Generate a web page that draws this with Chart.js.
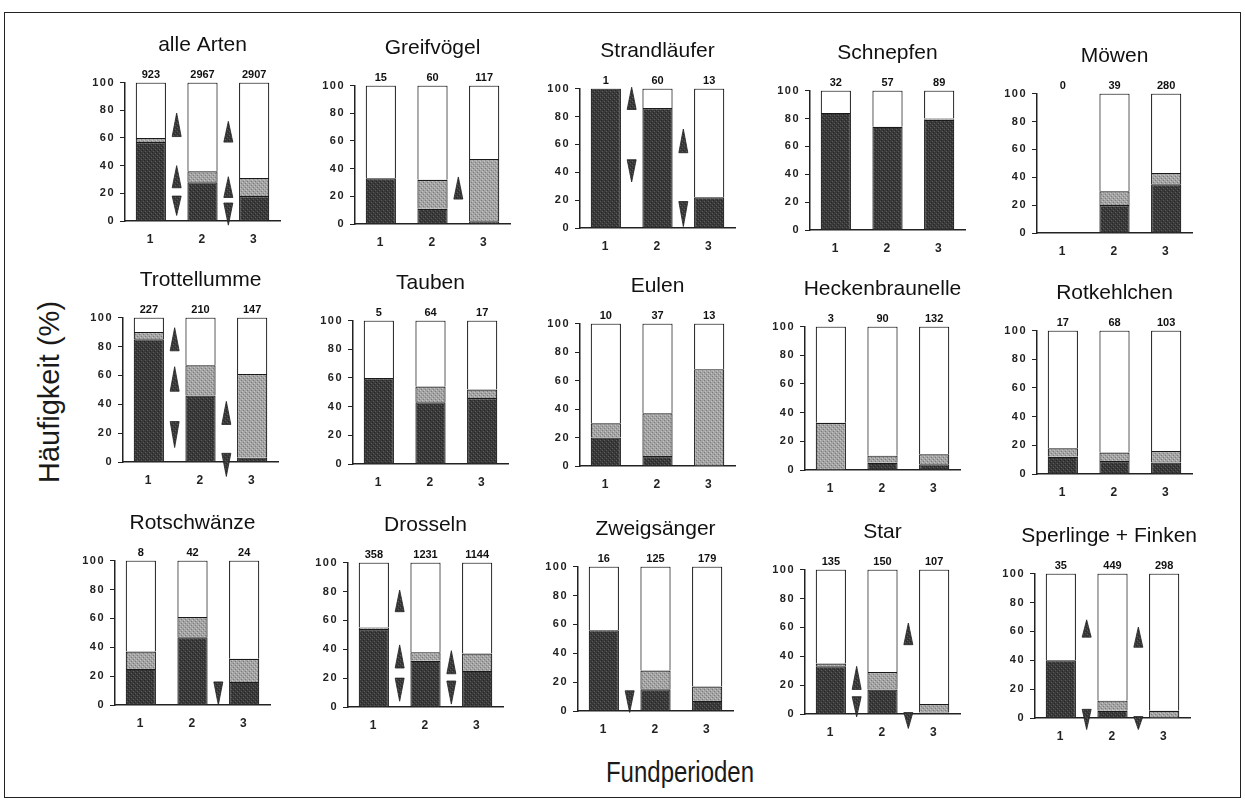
<!DOCTYPE html>
<html>
<head>
<meta charset="utf-8">
<script src="https://cdn.jsdelivr.net/npm/chart.js@4.4.0/dist/chart.umd.min.js"></script>
<style>
  body { margin: 0; background: #fff; width: 1245px; height: 808px; position: relative; overflow: hidden;
         font-family: "Liberation Sans", Arial, sans-serif; }
  #frame { position: absolute; left: 4px; top: 12px; width: 1237px; height: 786px; border: 1.5px solid #222; box-sizing: border-box; }
  canvas { position: absolute; }
  #ylab { position: absolute; left: 49px; top: 392px; transform: translate(-50%, -50%) rotate(-90deg);
          font-size: 29px; color: #1a1a1a; white-space: nowrap; }
  #xlab { position: absolute; left: 680px; top: 772px; transform: translate(-50%, -50%) scaleX(0.8);
          font-size: 30px; color: #1a1a1a; white-space: nowrap; }
</style>
</head>
<body>
<div id="frame"></div>
<div id="ylab">Häufigkeit (%)</div>
<div id="xlab">Fundperioden</div>

<script>
// Artengruppen (Titel der Einzeldiagramme)
const titles = ['alle Arten', 'Greifvögel', 'Strandläufer', 'Schnepfen', 'Möwen',
                'Trottellumme', 'Tauben', 'Eulen', 'Heckenbraunelle', 'Rotkehlchen',
                'Rotschwänze', 'Drosseln', 'Zweigsänger', 'Star', 'Sperlinge + Finken'];
const periods = ['1', '2', '3'];
const yTicks = [0, 20, 40, 60, 80, 100];

// Anzahl Funde je Periode (Zahlen über den Säulen)
const counts = [
  [923, 2967, 2907], [15, 60, 117], [1, 60, 13], [32, 57, 89], [0, 39, 280],
  [227, 210, 147], [5, 64, 17], [10, 37, 13], [3, 90, 132], [17, 68, 103],
  [8, 42, 24], [358, 1231, 1144], [16, 125, 179], [135, 150, 107], [35, 449, 298]
];

// Anteil dunkel (%) – unterer Säulenabschnitt
const dark = [
  [57, 28, 18], [33, 11, 2], [100, 86, 22], [84, 74, 79], [0, 20, 35],
  [85, 46, 3], [60, 43, 46], [20, 7, 0], [0, 5, 4], [12, 9, 8],
  [25, 47, 16], [54, 32, 25], [56, 15, 7], [33, 17, 1], [40, 5, 0]
];

// Anteil grau (%) – mittlerer Säulenabschnitt
const medium = [
  [3, 8, 13], [0, 21, 45], [0, 0, 0], [0, 0, 1], [0, 10, 8],
  [5, 21, 58], [0, 11, 6], [10, 30, 68], [33, 5, 7], [6, 6, 8],
  [12, 14, 16], [1, 6, 12], [0, 13, 10], [2, 12, 6], [0, 7, 5]
];

// Pfeile zwischen den Perioden: [Lage (0.5 = zwischen 1 und 2), Basis, Spitze]
const arrows = [
  [[0.5, 61, 78], [0.5, 24, 40], [0.5, 18, 4], [1.5, 57, 72], [1.5, 17, 32], [1.5, 13, -3]],
  [[1.5, 18, 34]],
  [[0.5, 85, 101], [0.5, 49, 33], [1.5, 54, 71], [1.5, 19, 1]],
  [], [],
  [[0.5, 77, 93], [0.5, 49, 66], [0.5, 28, 10], [1.5, 26, 42], [1.5, 6, -10]],
  [], [], [], [],
  [[1.5, 16, 0]],
  [[0.5, 66, 81], [0.5, 27, 43], [0.5, 20, 4], [1.5, 23, 39], [1.5, 18, 2]],
  [[0.5, 14, -1]],
  [[0.5, 17, 33], [0.5, 12, -2], [1.5, 48, 63], [1.5, 1, -10]],
  [[0.5, 56, 68], [0.5, 6, -8], [1.5, 49, 63], [1.5, 1, -8]]
];

// Lage der Diagramme: [x der y-Achse, y von 100 %, y der Grundlinie]
const boxes = [
  [125, 83, 222], [355, 86, 225], [580, 89, 229], [810, 91, 231], [1037, 94, 234],
  [123, 318, 463], [353, 321, 465], [580, 324, 467], [805, 327, 471], [1037, 331, 475],
  [115, 561, 706], [348, 563, 708], [578, 567, 712], [805, 570, 715], [1035, 574, 719]
];

const FONT = '"Liberation Sans", Arial, sans-serif';
const AXIS_W = 38, XAXIS_H = 30, TITLE_H = 49.6, PLOT_W = 155, PAD_R = 8;

// gerastertes Füllmuster wie im Scan
function stipple(base, dots) {
  const c = document.createElement('canvas');
  c.width = 4; c.height = 4;
  const g = c.getContext('2d');
  g.fillStyle = base; g.fillRect(0, 0, 4, 4);
  dots.forEach(d => { g.fillStyle = d[2]; g.fillRect(d[0], d[1], 1, 1); });
  return g.createPattern(c, 'repeat');
}
const darkFill = stipple('#3a3a3a', [[0, 0, '#5c5c5c'], [2, 2, '#5c5c5c'], [1, 3, '#262626'], [3, 1, '#262626']]);
const medFill = stipple('#a4a4a4', [[0, 0, '#7c7c7c'], [2, 2, '#7c7c7c'], [1, 3, '#c4c4c4'], [3, 1, '#c4c4c4']]);

// Titel, Zahlen über den Säulen und Pfeile
const extras = {
  id: 'extras',
  beforeDraw(chart) { chart.ctx.letterSpacing = '1.5px'; },
  beforeDatasetsDraw(chart) { chart.ctx.letterSpacing = '0px'; },
  afterDraw(chart, args, opts) {
    const ctx = chart.ctx;
    const xs = chart.scales.x, ys = chart.scales.y, ca = chart.chartArea;
    ctx.save();
    ctx.letterSpacing = '0px';
    ctx.fillStyle = '#111';
    ctx.textAlign = 'center';

    ctx.font = '21px ' + FONT;
    ctx.textBaseline = 'middle';
    const tw = ctx.measureText(opts.title).width;
    let cx = (ca.left + ca.right) / 2;
    cx = Math.min(cx, chart.width - tw / 2 - 1);
    ctx.fillText(opts.title, cx, 12.6);

    ctx.font = 'bold 11px ' + FONT;
    ctx.textBaseline = 'alphabetic';
    opts.counts.forEach((c, i) => {
      ctx.fillText(String(c), xs.getPixelForValue(i), ys.getPixelForValue(100) - 5);
    });
    opts.arrows.forEach(a => {
      const x = (xs.getPixelForValue(a[0] - 0.5) + xs.getPixelForValue(a[0] + 0.5)) / 2;
      const yb = ys.getPixelForValue(a[1]);
      const yt = ys.getPixelForValue(a[2]);
      ctx.beginPath();
      ctx.moveTo(x - 4.5, yb);
      ctx.lineTo(x + 4.5, yb);
      ctx.lineTo(x, yt);
      ctx.closePath();
      ctx.fillStyle = darkFill;
      ctx.fill();
      ctx.strokeStyle = '#222';
      ctx.lineWidth = 0.8;
      ctx.stroke();
    });
    ctx.restore();
  }
};

titles.forEach((t, p) => {
  const b = boxes[p];
  const cv = document.createElement('canvas');
  const w = AXIS_W + PLOT_W + PAD_R;
  const h = TITLE_H + (b[2] - b[1]) + XAXIS_H;
  cv.width = w; cv.height = h;
  cv.style.left = (b[0] - AXIS_W) + 'px';
  cv.style.top = (b[1] - TITLE_H) + 'px';
  document.body.appendChild(cv);

  const white = counts[p].map((c, i) => c > 0 ? 100 - dark[p][i] - medium[p][i] : 0);
  const common = { borderColor: '#1a1a1a', borderWidth: 1.2, barPercentage: 0.78, categoryPercentage: 0.75 };

  new Chart(cv.getContext('2d'), {
    type: 'bar',
    data: {
      labels: periods,
      datasets: [
        Object.assign({ data: dark[p], backgroundColor: darkFill }, common),
        Object.assign({ data: medium[p], backgroundColor: medFill }, common),
        Object.assign({ data: white, backgroundColor: '#ffffff' }, common)
      ]
    },
    options: {
      responsive: false,
      animation: false,
      devicePixelRatio: 1,
      layout: { padding: { left: 0, right: PAD_R, top: TITLE_H, bottom: 0 } },
      plugins: {
        legend: { display: false },
        tooltip: { enabled: false },
        title: { display: false },
        extras: { title: t, counts: counts[p], arrows: arrows[p] }
      },
      scales: {
        x: {
          stacked: true,
          grid: { display: false, drawTicks: false },
          border: { display: true, color: '#222', width: 1.5 },
          ticks: { color: '#222', padding: 11, font: { family: FONT, size: 12, weight: 'bold' } },
          afterFit(s) { s.height = XAXIS_H; }
        },
        y: {
          stacked: true, min: 0, max: 100,
          afterBuildTicks(s) { s.ticks = yTicks.map(v => ({ value: v })); },
          grid: { display: true, drawOnChartArea: false, drawTicks: true, tickLength: 5, color: '#222', lineWidth: 1 },
          border: { display: true, color: '#222', width: 1.5 },
          ticks: { color: '#222', padding: 5, font: { family: FONT, size: 11, weight: 'bold' } },
          afterFit(s) { s.width = AXIS_W; }
        }
      }
    },
    plugins: [extras]
  });
});
</script>
</body>
</html>
